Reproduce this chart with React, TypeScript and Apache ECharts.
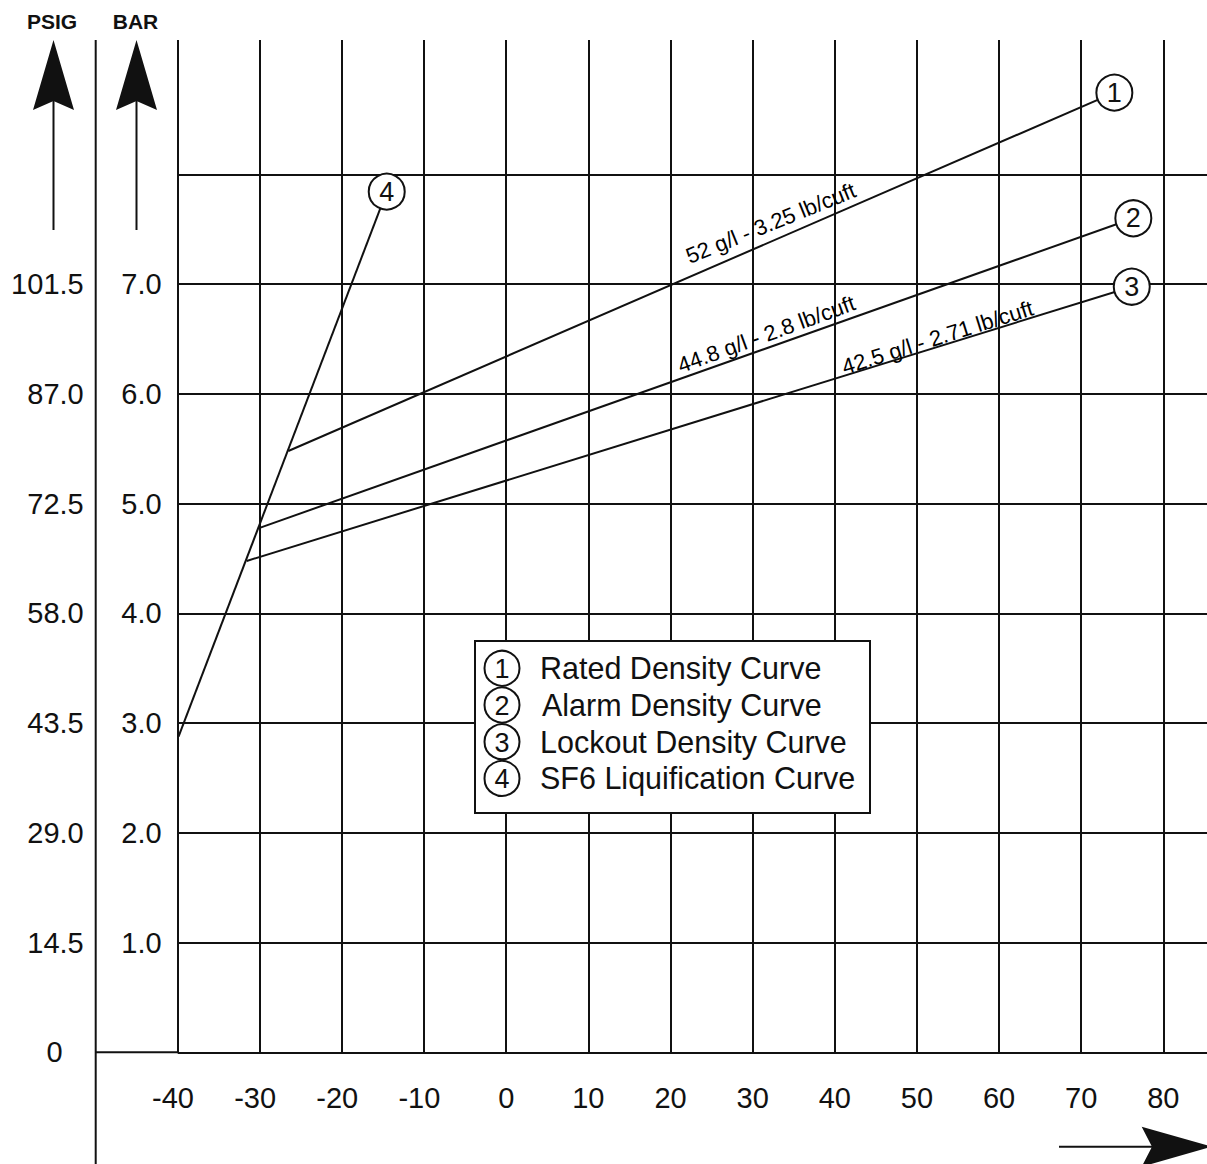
import React, { useEffect, useRef } from "react";
import * as echarts from "echarts";

// ---- data ----
const barLabels = ["1.0", "2.0", "3.0", "4.0", "5.0", "6.0", "7.0"];
const psigLabels = ["0", "14.5", "29.0", "43.5", "58.0", "72.5", "87.0", "101.5"];

// temperature (°C), pressure (bar); second point is the curve's numbered marker
const ratedCurve = [[-26.53, 5.479], [74.04, 8.744]];
const alarmCurve = [[-30.19, 4.774], [76.35, 7.599]];
const lockoutCurve = [[-31.6, 4.477], [76.16, 6.976]];
const liquefactionCurve = [[-39.9, 2.876], [-14.55, 7.842]];

const curveNumbers = ["1", "2", "3", "4"];
const legendNames = [
  "Rated Density Curve",
  "Alarm Density Curve",
  "Lockout Density Curve",
  "SF6 Liquification Curve",
];
const densityTexts = ["52 g/l - 3.25 lb/cuft", "44.8 g/l - 2.8 lb/cuft", "42.5 g/l - 2.71 lb/cuft"];
// anchors of the density texts (data coords) and their angles
const densityAnchors = [[32.21, 7.554], [31.67, 6.543], [52.51, 6.513]];
const densityAngles = [22, 20, 17.5];

const INK = "#111111";
const FONT = "'Liberation Sans', Arial, Helvetica, sans-serif";

const curves = [ratedCurve, alarmCurve, lockoutCurve, liquefactionCurve];

function buildOption() {
  const legendX = 475;
  const legendY = 641;
  const rowGap = 36.7;
  const legendGraphics: any[] = [
    {
      type: "rect",
      shape: { x: legendX, y: legendY, width: 395, height: 172 },
      style: { fill: "#fff", stroke: INK, lineWidth: 2 },
      z: 100,
    },
  ];
  legendNames.forEach((name, i) => {
    const cy = 668.3 + i * rowGap;
    legendGraphics.push({
      type: "circle",
      shape: { cx: 502, cy, r: 17.5 },
      style: { fill: "#fff", stroke: INK, lineWidth: 2 },
      z: 101 + (3 - i),
    });
    legendGraphics.push({
      type: "text",
      x: 502,
      y: cy + 1,
      style: {
        text: curveNumbers[i],
        fontSize: 27,
        fontFamily: FONT,
        fill: INK,
        align: "center",
        verticalAlign: "middle",
      },
      z: 110,
    });
    legendGraphics.push({
      type: "text",
      x: i === 1 ? 542 : 540,
      y: cy,
      style: {
        text: name,
        fontSize: 30.5,
        fontFamily: FONT,
        fill: INK,
        align: "left",
        verticalAlign: "middle",
      },
      z: 110,
    });
  });

  const decor: any[] = [
    // BAR axis line
    { type: "line", shape: { x1: 95.7, y1: 40, x2: 95.7, y2: 1164 }, style: { stroke: INK, lineWidth: 2 }, z: 50 },
    // x axis extension to the left
    { type: "line", shape: { x1: 95.7, y1: 1052.3, x2: 178, y2: 1052.3 }, style: { stroke: INK, lineWidth: 2 }, z: 50 },
    // PSIG arrow
    { type: "line", shape: { x1: 53.5, y1: 100, x2: 53.5, y2: 230 }, style: { stroke: INK, lineWidth: 2 }, z: 50 },
    { type: "polygon", shape: { points: [[53.5, 40], [74, 110], [53.5, 101], [33, 110]] }, style: { fill: INK }, z: 50 },
    // BAR arrow
    { type: "line", shape: { x1: 136.5, y1: 100, x2: 136.5, y2: 230 }, style: { stroke: INK, lineWidth: 2 }, z: 50 },
    { type: "polygon", shape: { points: [[136.5, 40], [157, 110], [136.5, 101], [116, 110]] }, style: { fill: INK }, z: 50 },
    { type: "text", x: 52, y: 21, style: { text: "PSIG", fontSize: 21, fontWeight: "bold", fontFamily: FONT, fill: INK, align: "center", verticalAlign: "middle" }, z: 50 },
    { type: "text", x: 135.5, y: 21, style: { text: "BAR", fontSize: 21, fontWeight: "bold", fontFamily: FONT, fill: INK, align: "center", verticalAlign: "middle" }, z: 50 },
    // temperature arrow
    { type: "line", shape: { x1: 1059, y1: 1146.7, x2: 1160, y2: 1146.7 }, style: { stroke: INK, lineWidth: 2 }, z: 50 },
    { type: "polygon", shape: { points: [[1141.7, 1126.7], [1212, 1146.7], [1141.7, 1166.7], [1152, 1146.7]] }, style: { fill: INK }, z: 50 },
  ];

  // horizontal grid lines: 0..8 drawn, 9 hidden
  const hLineColors = [INK, INK, INK, INK, INK, INK, INK, INK, INK, "rgba(0,0,0,0)"];

  return {
    animation: false,
    backgroundColor: "#ffffff",
    grid: { left: 177.7, right: 0, top: 40, bottom: 111.7, outerBoundsMode: "none" },
    xAxis: {
      type: "value",
      min: -40,
      max: 85.32,
      interval: 10,
      axisLine: { show: false },
      axisTick: { show: false },
      splitLine: { show: true, showMinLine: true, showMaxLine: false, lineStyle: { color: INK, width: 2 } },
      axisLabel: {
        show: true,
        margin: 31,
        fontSize: 29,
        fontFamily: FONT,
        color: INK,
        showMaxLabel: false,
        formatter: (v: number) => {
          if (v > 80.5 || v < -40.5) return "";
          const r = Math.round(v);
          return r < 0 ? `{n|${r}}` : `${r}`;
        },
        rich: {
          n: { fontSize: 29, fontFamily: FONT, color: INK, padding: [0, 9.5, 0, 0] },
        },
      },
    },
    yAxis: [
      {
        type: "value",
        min: 0,
        max: 9.2237,
        interval: 1,
        position: "left",
        axisLine: { show: false },
        axisTick: { show: false },
        splitLine: {
          show: true,
          showMinLine: true,
          showMaxLine: false,
          lineStyle: { color: hLineColors, width: 2 },
        },
        axisLabel: {
          margin: 16,
          fontSize: 29,
          fontFamily: FONT,
          color: INK,
          showMaxLabel: false,
          formatter: (v: number) => {
            const i = Math.round(v);
            return Math.abs(v - i) < 1e-6 && i >= 1 && i <= barLabels.length ? barLabels[i - 1] : "";
          },
        },
      },
      {
        type: "value",
        min: 0,
        max: 9.2237 * 14.5,
        interval: 14.5,
        position: "left",
        offset: 0,
        axisLine: { show: false },
        axisTick: { show: false },
        splitLine: { show: false },
        axisLabel: {
          margin: 94,
          fontSize: 29,
          fontFamily: FONT,
          color: INK,
          showMaxLabel: false,
          formatter: (v: number) => {
            const i = Math.round(v / 14.5);
            if (Math.abs(v - i * 14.5) > 1e-3 || i < 0 || i >= psigLabels.length) return "";
            return i === 0 ? `{z|${psigLabels[0]}}` : psigLabels[i];
          },
          rich: {
            z: { fontSize: 29, fontFamily: FONT, color: INK, padding: [0, 21, 0, 0] },
          },
        },
      },
    ],
    series: [
      ...curves.map((d, i) => ({
        type: "line",
        name: legendNames[i],
        data: d,
        symbol: "none",
        silent: true,
        lineStyle: { color: INK, width: 2 },
        z: 3,
      })),
      {
        type: "scatter",
        name: "markers",
        silent: true,
        data: curves.map((c, i) => ({ value: c[c.length - 1], name: curveNumbers[i] })),
        symbol: "circle",
        symbolSize: 36,
        itemStyle: { color: "#ffffff", borderColor: INK, borderWidth: 2, opacity: 1 },
        label: {
          show: true,
          position: "inside",
          formatter: (p: any) => p.name,
          fontSize: 27,
          fontFamily: FONT,
          color: INK,
        },
        z: 5,
      },
      {
        type: "scatter",
        name: "density",
        silent: true,
        symbolSize: 0,
        itemStyle: { opacity: 1, color: INK },
        data: densityTexts.map((t, i) => ({
          value: densityAnchors[i],
          name: t,
          label: { rotate: densityAngles[i] },
        })),
        label: {
          show: true,
          position: "inside",
          formatter: (p: any) => p.name,
          fontSize: 22,
          fontFamily: FONT,
          color: "#000000",
          opacity: 1,
          textBorderWidth: 0,
        },
        z: 4,
      },
    ],
    graphic: [...decor, ...legendGraphics],
  };
}

export default function App() {
  const ref = useRef<HTMLDivElement>(null);
  useEffect(() => {
    if (!ref.current) return;
    const chart = echarts.init(ref.current, undefined, { renderer: "svg" });
    chart.setOption(buildOption() as any);
    return () => chart.dispose();
  }, []);
  return (
    <div
      ref={ref}
      style={{ position: "absolute", left: 0, top: 0, width: 1207, height: 1164, background: "#fff" }}
    />
  );
}
